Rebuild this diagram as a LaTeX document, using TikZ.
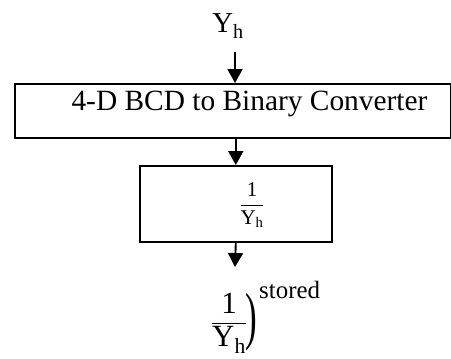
\documentclass[tikz,border=0pt]{standalone}
\usepackage{fontspec}
\setmainfont{Liberation Serif}
\usetikzlibrary{arrows.meta}
\tikzset{
  blockbox/.style={draw, line width=1.6bp, inner sep=0pt},
  flow/.style={line width=1.9bp, -{Triangle[length=14bp,width=15bp]}},
  sig/.style={inner sep=0pt}
}
\newcommand{\fsz}[1]{\fontsize{#1}{#1}\selectfont}
\newcommand{\recip}{\ensuremath{\displaystyle\frac{\mathrm{1}}{\mathrm{Y_h}}}}
\begin{document}
\begin{tikzpicture}[x=1bp,y=-1bp]
\useasboundingbox (0,0) rectangle (451,358);
% input signal
\node[sig, font=\fsz{29}] (yin) at (228,26) {Y\textsubscript{h}};
\coordinate (a0) at (235,52);
% converter block
\node[blockbox, minimum width=436bp, minimum height=54bp, anchor=north west] (conv) at (14,83) {};
\node[sig, font=\fsz{29.5}, anchor=base] (convtxt) at (249.5,110) {4-D BCD to Binary Converter};
% reciprocal block
\node[blockbox, minimum width=192bp, minimum height=76bp, anchor=north west] (inv) at (139,165) {};
\node[sig, font=\fsz{21}] (invtxt) at (252,205) {\recip};
% stored output
\coordinate (a3) at (235,267);
\node[sig, font=\fsz{31}] (outfrac) at (229,323) {\recip};
\node[sig, anchor=west] (outpar) at (245,322) {\scalebox{0.55}[1]{\fsz{64})}};
\node[sig, font=\fsz{25}, anchor=west] (outsup) at (259,290) {stored};
% connectors
\draw[flow] (a0) -- (a0 |- conv.north);
\draw[flow] (conv.south -| inv.north) -- (inv.north);
\draw[flow] (inv.south) -- (a3);
\end{tikzpicture}
\end{document}
